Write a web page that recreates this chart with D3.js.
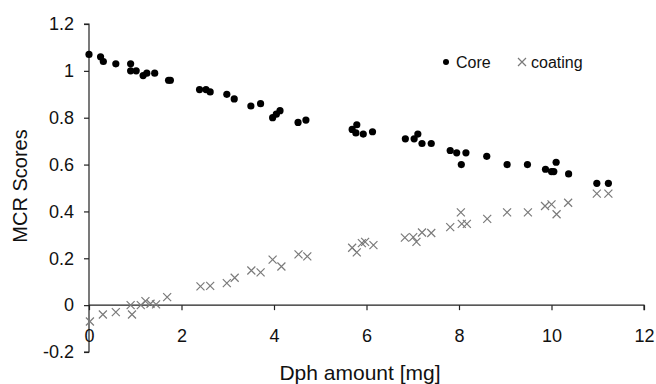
<!DOCTYPE html>
<html>
<head>
<meta charset="utf-8">
<script src="https://cdn.jsdelivr.net/npm/d3@7"></script>
<style>
  body { margin: 0; background: #fff; }
  svg text { font-family: "Liberation Sans", Arial, sans-serif; fill: #111; }
</style>
</head>
<body>
<svg id="chart" width="656" height="384"></svg>
<script>
// Core series (filled dots)
const coreX = [0.00, 0.25, 0.31, 0.58, 0.90, 0.90, 1.02, 1.17, 1.25, 1.42, 1.72, 1.76,
  2.39, 2.53, 2.62, 2.98, 3.14, 3.50, 3.71, 3.97, 4.05, 4.13, 4.52, 4.69,
  5.69, 5.77, 5.79, 5.93, 6.13, 6.84, 7.03, 7.11, 7.20, 7.40, 7.81, 7.95,
  8.05, 8.15, 8.60, 9.04, 9.48, 9.87, 10.00, 10.05, 10.10, 10.37, 10.98, 11.23];
const coreY = [1.07, 1.06, 1.04, 1.03, 1.03, 1.00, 1.00, 0.98, 0.99, 0.99, 0.96, 0.96,
  0.92, 0.92, 0.91, 0.90, 0.88, 0.85, 0.86, 0.80, 0.815, 0.83, 0.78, 0.79,
  0.75, 0.735, 0.77, 0.73, 0.74, 0.71, 0.71, 0.73, 0.69, 0.69, 0.66, 0.65,
  0.60, 0.65, 0.635, 0.60, 0.60, 0.58, 0.57, 0.57, 0.61, 0.56, 0.52, 0.52];

// coating series (crosses)
const coatX = [0.02, 0.30, 0.58, 0.90, 0.93, 1.12, 1.22, 1.33, 1.45, 1.69,
  2.41, 2.62, 2.98, 3.15, 3.51, 3.71, 3.97, 4.16, 4.53, 4.72,
  5.69, 5.79, 5.90, 5.97, 6.15, 6.83, 7.01, 7.08, 7.20, 7.40, 7.81,
  8.04, 8.06, 8.17, 8.61, 9.04, 9.49, 9.86, 10.00, 10.11, 10.36, 10.98, 11.23];
const coatY = [-0.07, -0.04, -0.03, 0.00, -0.04, 0.00, 0.017, 0.006, 0.003, 0.034,
  0.08, 0.082, 0.094, 0.117, 0.148, 0.14, 0.194, 0.165, 0.217, 0.208,
  0.245, 0.225, 0.265, 0.27, 0.256, 0.288, 0.29, 0.27, 0.31, 0.308, 0.333,
  0.396, 0.347, 0.347, 0.368, 0.396, 0.396, 0.423, 0.43, 0.388, 0.437, 0.476, 0.476];

const xTicks = [0, 2, 4, 6, 8, 10, 12];
const yTicks = [-0.2, 0, 0.2, 0.4, 0.6, 0.8, 1, 1.2];

const svg = d3.select("#chart");

const x = d3.scaleLinear().domain([0, 12]).range([89, 644]);
const y = d3.scaleLinear().domain([-0.2, 1.2]).range([352, 24]);

// y axis (plain hyphen for negatives, like the original)
const yAxis = svg.append("g")
  .attr("transform", `translate(${x(0)},0)`)
  .call(d3.axisLeft(y).tickValues(yTicks).tickSize(5).tickPadding(10)
    .tickFormat(d => String(+d.toFixed(1))));

// x axis sits on y = 0
const xAxis = svg.append("g")
  .attr("transform", `translate(0,${y(0)})`)
  .call(d3.axisBottom(x).tickValues(xTicks).tickSize(5).tickPadding(19).tickFormat(d => String(d)));

[yAxis, xAxis].forEach(a => {
  a.select(".domain").attr("stroke", "#222").attr("stroke-width", 1.2);
  a.selectAll(".tick line").attr("stroke", "#222").attr("stroke-width", 1.2);
  a.selectAll(".tick text").attr("font-size", 18).attr("fill", "#111")
    .style("font-family", "'Liberation Sans', Arial, sans-serif");
});
yAxis.select(".domain").attr("d", `M-5,${y(1.2)}H0V${y(-0.2)}H-5`);
xAxis.select(".domain").attr("d", `M${x(0)},0H${x(12)}V5`);

// axis titles
svg.append("text")
  .attr("x", 360).attr("y", 380)
  .attr("text-anchor", "middle")
  .attr("font-size", 21)
  .text("Dph amount [mg]");

svg.append("text")
  .attr("transform", `translate(27,${(127 + 245) / 2}) rotate(-90)`)
  .attr("text-anchor", "middle")
  .attr("font-size", 20)
  .text("MCR Scores");

// coating crosses
const cross = 4;
svg.append("g").selectAll("path.coat")
  .data(coatX.map((d, i) => [d, coatY[i]]))
  .enter()
  .append("path")
  .attr("class", "coat")
  .attr("d", d => {
    const cx = x(d[0]), cy = y(d[1]);
    return `M${cx - cross},${cy - cross}L${cx + cross},${cy + cross}M${cx - cross},${cy + cross}L${cx + cross},${cy - cross}`;
  })
  .attr("stroke", "#7a7a7a")
  .attr("stroke-width", 1.2)
  .attr("fill", "none");

// core dots
svg.append("g").selectAll("circle.core")
  .data(coreX.map((d, i) => [d, coreY[i]]))
  .enter()
  .append("circle")
  .attr("class", "core")
  .attr("cx", d => x(d[0]))
  .attr("cy", d => y(d[1]))
  .attr("r", 3.6)
  .attr("fill", "#000");

// legend
const legend = svg.append("g");
legend.append("circle").attr("cx", 446).attr("cy", 62).attr("r", 3).attr("fill", "#000");
legend.append("text").attr("x", 456).attr("y", 68).attr("font-size", 16).text("Core");
legend.append("path")
  .attr("d", "M518,58L526,66M518,66L526,58")
  .attr("stroke", "#7a7a7a").attr("stroke-width", 1.2);
legend.append("text").attr("x", 531).attr("y", 68).attr("font-size", 16).text("coating");
</script>
</body>
</html>
